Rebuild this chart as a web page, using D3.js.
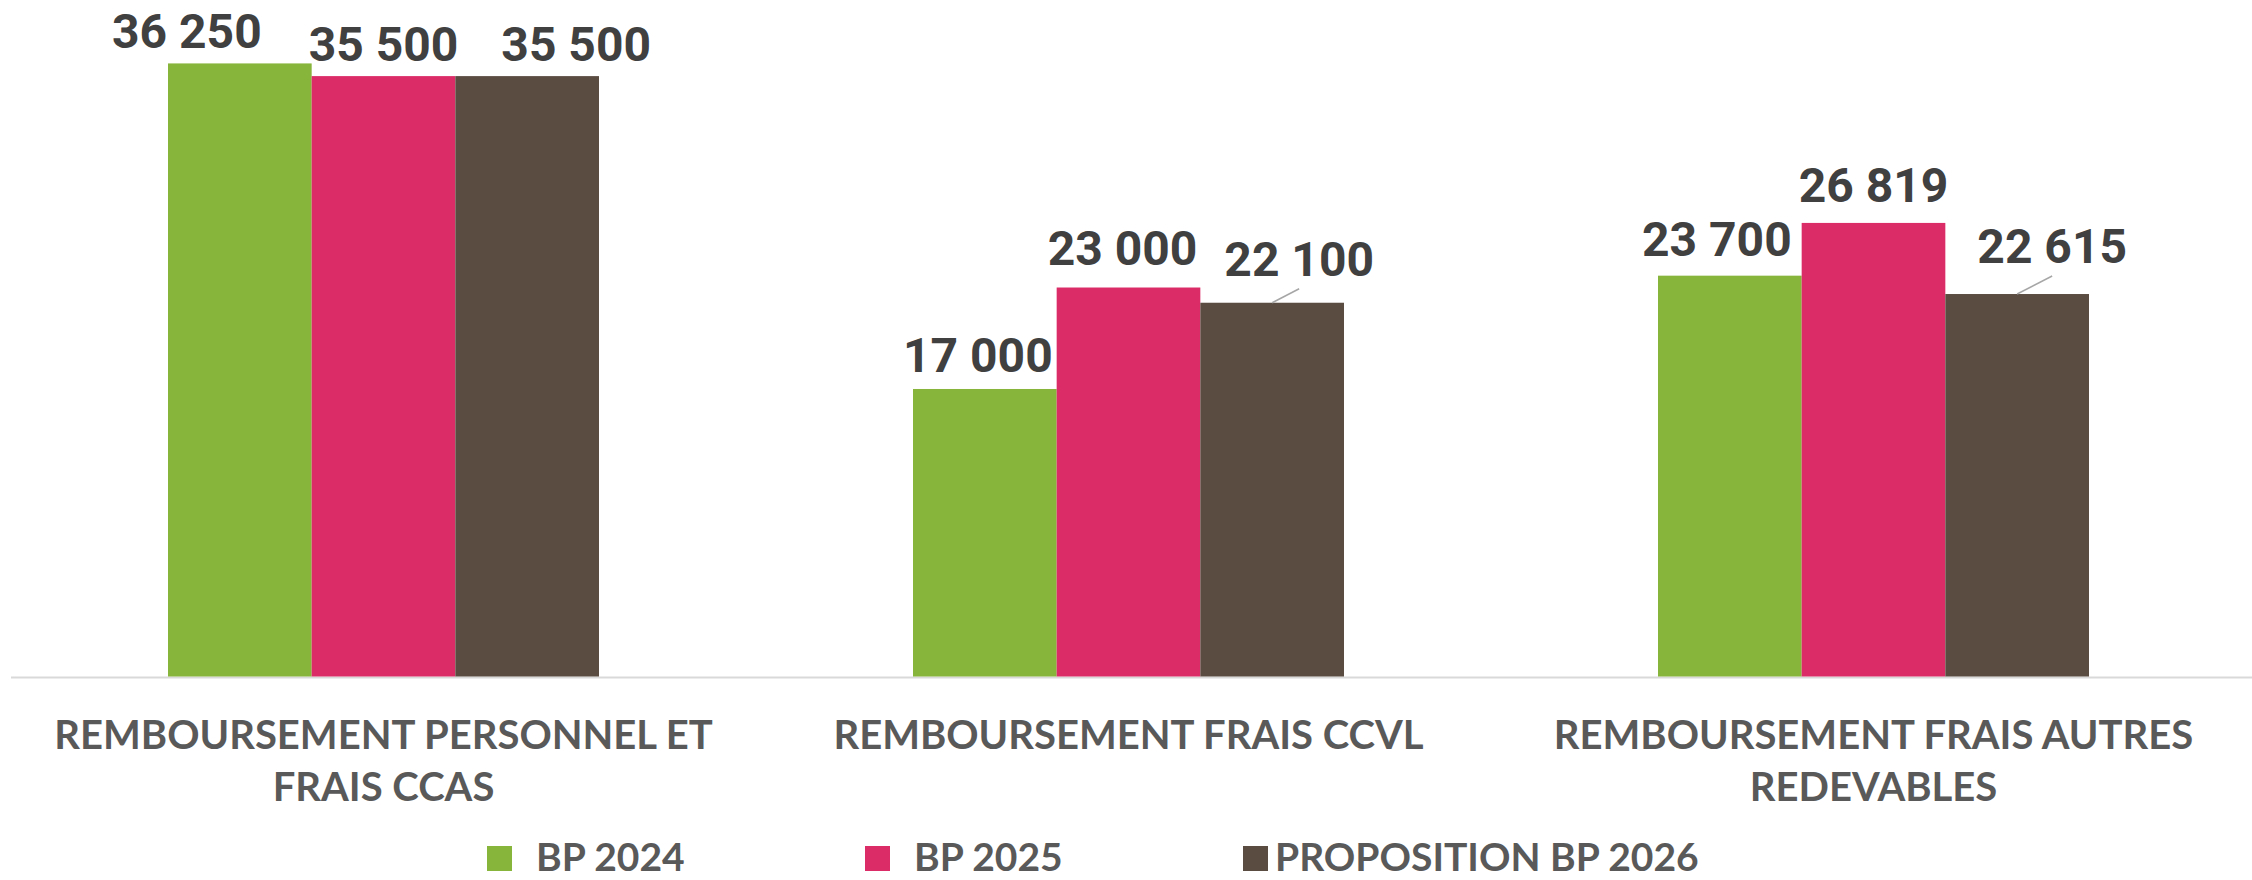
<!DOCTYPE html>
<html>
<head>
<meta charset="utf-8">
<script src="https://cdn.jsdelivr.net/npm/d3@7"></script>
<style>
  body { margin: 0; background: #fff; }
  svg { display: block; }
  .value { font-family: Roboto, "Open Sans", sans-serif; font-weight: bold; fill: #404040; }
  .cat, .legend text { font-family: "Century Gothic", Lato, "Open Sans", sans-serif; font-weight: bold; fill: #595959; }
</style>
</head>
<body>
<svg width="2252" height="880"></svg>
<script>

var categories = ["REMBOURSEMENT PERSONNEL ET FRAIS CCAS", "REMBOURSEMENT FRAIS CCVL", "REMBOURSEMENT FRAIS AUTRES REDEVABLES"];
var series = ["BP 2024", "BP 2025", "PROPOSITION BP 2026"];
var bp2024 = [36250, 17000, 23700];
var bp2025 = [35500, 23000, 26819];
var prop2026 = [35500, 22100, 22615];
var colors = ["#87b43a", "#dc2c67", "#5a4c41"];

// labels that were dragged around by hand in the original (dx, dy from bar top centre)
var labelNudge = [
  [[-53, -15], [0, -15], [49, -15]],
  [[-7, -17], [-6, -23], [27, -27]],
  [[-13, -20], [0, -21], [35, -31]]
];

var w = 2252,
    h = 880;

var svg = d3.select("svg");

var fr = d3.formatLocale({ decimal: ",", thousands: " ", grouping: [3], currency: ["", " €"] });
var format = fr.format(",d");

var values = [bp2024, bp2025, prop2026];
var rows = categories.map(function(c, i) {
  return { cat: c, i: i, vals: series.map(function(s, j) { return { s: s, j: j, v: values[j][i] }; }) };
});

var x0 = d3.scaleBand()
    .domain(categories)
    .range([11, 2246])
    .paddingInner(0.4215)
    .paddingOuter(0.4215 / 2);

var x1 = d3.scaleBand()
    .domain(series)
    .range([0, x0.bandwidth()]);

var y = d3.scaleLinear()
    .domain([0, 40000])
    .range([676.5, 0]);

var color = d3.scaleOrdinal().domain(series).range(colors);

// baseline
svg.append("line")
    .attr("x1", 11).attr("x2", w)
    .attr("y1", 677.5).attr("y2", 677.5)
    .attr("stroke", "#d9d9d9")
    .attr("stroke-width", 2);

var group = svg.selectAll(".grp")
  .data(rows)
  .enter().append("g")
    .attr("class", "grp")
    .attr("transform", function(d) { return "translate(" + x0(d.cat) + ",0)"; });

group.selectAll("rect")
  .data(function(d) { return d.vals; })
  .enter().append("rect")
    .attr("x", function(d) { return x1(d.s); })
    .attr("y", function(d) { return y(d.v); })
    .attr("width", x1.bandwidth())
    .attr("height", function(d) { return y(0) - y(d.v); })
    .attr("fill", function(d) { return color(d.s); });

// leader lines + value labels
group.each(function(r) {
  var g = d3.select(this);
  r.vals.forEach(function(d) {
    var n = labelNudge[r.i][d.j];
    var cx = x1(d.s) + x1.bandwidth() / 2,
        top = y(d.v);
    var lx = cx + n[0],
        ly = top + n[1];
    if (n[1] < -25) {
      g.append("line")
        .attr("x1", cx).attr("y1", top)
        .attr("x2", lx).attr("y2", ly + 13)
        .attr("stroke", "#a6a6a6")
        .attr("stroke-width", 1.5);
    }
    g.append("text")
      .attr("class", "value")
      .attr("x", lx)
      .attr("y", ly)
      .attr("text-anchor", "middle")
      .attr("font-size", "48px")
      .text(format(d.v));
  });
});

// category labels, wrapped like excel does
var cat = svg.selectAll(".cat")
  .data(categories)
  .enter().append("text")
    .attr("class", "cat")
    .attr("font-size", "40px")
    .attr("text-anchor", "middle")
    .attr("x", function(d) { return x0(d) + x0.bandwidth() / 2; })
    .attr("y", 749);

cat.each(function(d) {
  var t = d3.select(this);
  var words = d.split(" "), line = [], lines = [];
  var probe = t.append("tspan");
  words.forEach(function(wd) {
    line.push(wd);
    probe.text(line.join(" "));
    if (probe.node().getComputedTextLength() > 708 && line.length > 1) {
      line.pop();
      lines.push(line.join(" "));
      line = [wd];
    }
  });
  lines.push(line.join(" "));
  probe.remove();
  var cx = x0(d) + x0.bandwidth() / 2;
  lines.forEach(function(l, k) {
    t.append("tspan")
      .attr("x", cx)
      .attr("dy", k == 0 ? 0 : 51.5)
      .text(l);
  });
});

// legend
var legend = svg.selectAll(".legend")
  .data(series)
  .enter().append("g")
    .attr("class", "legend")
    .attr("transform", function(d, i) { return "translate(" + (487 + i * 378) + ",846)"; });

legend.append("rect")
    .attr("width", 25)
    .attr("height", 25)
    .attr("fill", function(d) { return color(d); });

legend.append("text")
    .attr("x", function(d, i) { return i == 2 ? 32 : 49; })
    .attr("y", 25)
    .attr("font-size", "39px")
    .text(function(d) { return d; });

</script>
</body>
</html>
